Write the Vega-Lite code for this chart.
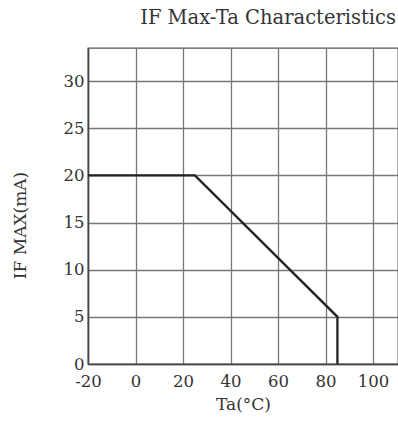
{
  "$schema": "https://vega.github.io/schema/vega-lite/v6.json",
  "width": 310,
  "height": 316,
  "autosize": {"type": "none"},
  "padding": {"left": 88, "top": 48, "right": 0, "bottom": 57},
  "background": "white",
  "title": {
    "text": "IF Max-Ta Characteristics",
    "anchor": "end",
    "frame": "group",
    "font": "DejaVu Serif",
    "fontSize": 19.5,
    "fontWeight": "normal",
    "color": "#333",
    "offset": 20,
    "dx": -2
  },
  "config": {
    "view": {"stroke": "#555", "strokeWidth": 1.3},
    "axis": {
      "labelFont": "DejaVu Serif",
      "titleFont": "DejaVu Serif",
      "labelFontSize": 16.5,
      "titleFontSize": 17,
      "titleFontWeight": "normal",
      "labelColor": "#333",
      "titleColor": "#333",
      "gridColor": "#777",
      "gridOpacity": 1,
      "gridWidth": 1.3,
      "domainColor": "#444",
      "domainWidth": 1.5,
      "ticks": false
    }
  },
  "data": {
    "values": [
      {"ta": -20, "imax": 20, "o": 1},
      {"ta": 25, "imax": 20, "o": 2},
      {"ta": 85, "imax": 5, "o": 3},
      {"ta": 85, "imax": 0, "o": 4}
    ]
  },
  "mark": {"type": "line", "color": "#222", "strokeWidth": 2.3},
  "encoding": {
    "x": {
      "field": "ta",
      "type": "quantitative",
      "scale": {"domain": [-20, 110.5], "nice": false, "zero": false},
      "axis": {
        "values": [-20, 0, 20, 40, 60, 80, 100],
        "labelExpr": "datum.value < 0 ? '-' + abs(datum.value) : datum.label",
        "title": "Ta(°C)",
        "labelPadding": 9,
        "titlePadding": 7,
        "labelFlush": false
      }
    },
    "y": {
      "field": "imax",
      "type": "quantitative",
      "scale": {"domain": [0, 33.5], "nice": false},
      "axis": {
        "values": [0, 5, 10, 15, 20, 25, 30],
        "title": "IF MAX(mA)",
        "labelPadding": 4,
        "titleAnchor": null,
        "titleX": -68,
        "titleY": 177,
        "titleAlign": "center",
        "titleBaseline": "middle",
        "titleAngle": 270
      }
    },
    "order": {"field": "o", "type": "quantitative"}
  }
}
